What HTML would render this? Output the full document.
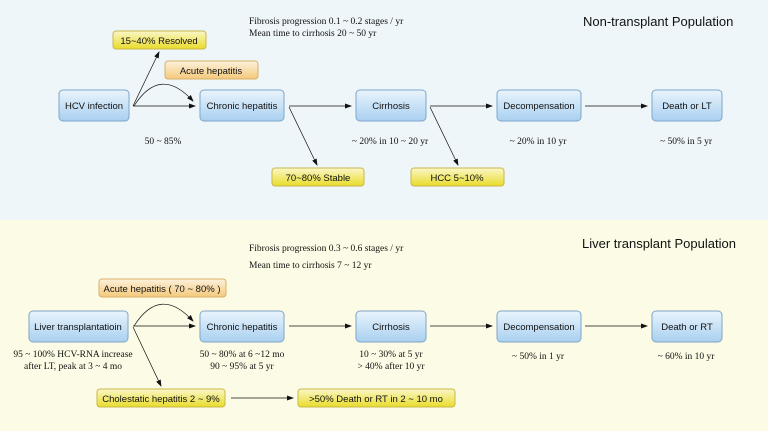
<!DOCTYPE html>
<html><head><meta charset="utf-8"><style>
html,body{margin:0;padding:0;width:768px;height:431px;overflow:hidden}
svg{display:block}
.s{font-family:"Liberation Sans",sans-serif;font-size:9.5px;fill:#111}
.t{font-family:"Liberation Serif",serif;font-size:9.5px;fill:#111}
.h{font-family:"Liberation Sans",sans-serif;font-size:13px;fill:#111}
</style></head><body>
<svg width="768" height="431" viewBox="0 0 768 431" xmlns="http://www.w3.org/2000/svg">
<defs>
<linearGradient id="b" x1="0" y1="0" x2="0" y2="1"><stop offset="0" stop-color="#e9f4fc"/><stop offset="1" stop-color="#a9d0f0"/></linearGradient>
<linearGradient id="y" x1="0" y1="0" x2="0" y2="1"><stop offset="0" stop-color="#fbf7c8"/><stop offset="1" stop-color="#e8dc2a"/></linearGradient>
<linearGradient id="o" x1="0" y1="0" x2="0" y2="1"><stop offset="0" stop-color="#fdf1dc"/><stop offset="1" stop-color="#f4c97a"/></linearGradient>
<marker id="a" markerWidth="7" markerHeight="5" refX="6" refY="2.5" orient="auto" markerUnits="userSpaceOnUse"><path d="M0,0 L7,2.5 L0,5z" fill="#111"/></marker>
</defs>
<rect x="0" y="0" width="768" height="220" fill="#eef6fa"/>
<rect x="0" y="220" width="768" height="211" fill="#fcfbe5"/>
<g stroke="#7fa6c8" stroke-width="1">
<rect x="59" y="90" width="70" height="31" rx="4" fill="url(#b)"/>
<rect x="200" y="90" width="84" height="31" rx="4" fill="url(#b)"/>
<rect x="356" y="90" width="70" height="31" rx="4" fill="url(#b)"/>
<rect x="497" y="90" width="84" height="31" rx="4" fill="url(#b)"/>
<rect x="652" y="90" width="70" height="31" rx="4" fill="url(#b)"/>
<rect x="29" y="311" width="99" height="31" rx="4" fill="url(#b)"/>
<rect x="200" y="311" width="84" height="31" rx="4" fill="url(#b)"/>
<rect x="356" y="311" width="70" height="31" rx="4" fill="url(#b)"/>
<rect x="497" y="311" width="84" height="31" rx="4" fill="url(#b)"/>
<rect x="652" y="311" width="70" height="31" rx="4" fill="url(#b)"/>
</g>
<g stroke="#c9b84a" stroke-width="1">
<rect x="113" y="31" width="93" height="18" rx="3" fill="url(#y)"/>
<rect x="272" y="168" width="92" height="18" rx="3" fill="url(#y)"/>
<rect x="411" y="168" width="93" height="18" rx="3" fill="url(#y)"/>
<rect x="97" y="389" width="128" height="18" rx="3" fill="url(#y)"/>
<rect x="298" y="389" width="157" height="18" rx="3" fill="url(#y)"/>
</g>
<g stroke="#d9b06a" stroke-width="1">
<rect x="165" y="61" width="93" height="18" rx="3" fill="url(#o)"/>
<rect x="99" y="279" width="127" height="18" rx="3" fill="url(#o)"/>
</g>
<g class="s" text-anchor="middle">
<text x="94" y="109">HCV infection</text>
<text x="242" y="109">Chronic hepatitis</text>
<text x="391" y="109">Cirrhosis</text>
<text x="539" y="109">Decompensation</text>
<text x="687" y="109">Death or LT</text>
<text x="78" y="330">Liver transplantatioin</text>
<text x="242" y="330">Chronic hepatitis</text>
<text x="391" y="330">Cirrhosis</text>
<text x="539" y="330">Decompensation</text>
<text x="687" y="330">Death or RT</text>
<text x="159" y="44">15~40% Resolved</text>
<text x="211" y="74">Acute hepatitis</text>
<text x="318" y="181">70~80% Stable</text>
<text x="457" y="181">HCC 5~10%</text>
<text x="162" y="292">Acute hepatitis ( 70 ~ 80% )</text>
<text x="161" y="402">Cholestatic hepatitis 2 ~ 9%</text>
<text x="376" y="402">&gt;50% Death or RT in 2 ~ 10 mo</text>
</g>
<text class="h" x="583" y="26">Non-transplant Population</text>
<text class="h" x="582" y="248">Liver transplant Population</text>
<g class="t">
<text x="249" y="24">Fibrosis  progression 0.1 ~ 0.2 stages / yr</text>
<text x="249" y="36">Mean time to cirrhosis 20 ~ 50 yr</text>
<text x="249" y="251">Fibrosis  progression 0.3 ~ 0.6 stages / yr</text>
<text x="249" y="268">Mean time to cirrhosis 7 ~ 12 yr</text>
</g>
<g class="t" text-anchor="middle">
<text x="163" y="144">50 ~ 85%</text>
<text x="390" y="144">~ 20% in 10 ~ 20 yr</text>
<text x="538" y="144">~ 20% in 10 yr</text>
<text x="686" y="144">~ 50% in 5 yr</text>
<text x="73" y="357">95 ~ 100% HCV-RNA increase</text>
<text x="73" y="369">after LT, peak at 3 ~ 4 mo</text>
<text x="242" y="357">50 ~ 80% at 6 ~12 mo</text>
<text x="242" y="369">90 ~ 95% at 5 yr</text>
<text x="391" y="357">10 ~ 30% at 5 yr</text>
<text x="391" y="369">&gt; 40% after 10 yr</text>
<text x="538" y="359">~ 50% in 1 yr</text>
<text x="686" y="359">~ 60% in 10 yr</text>
</g>
<g stroke="#111" stroke-width="0.7" fill="none" marker-end="url(#a)">
<line x1="133" y1="106" x2="195" y2="106"/>
<line x1="133" y1="106" x2="159" y2="52"/>
<path d="M134,106 Q160,65 193,101"/>
<line x1="289" y1="106" x2="351" y2="106"/>
<line x1="289" y1="107" x2="317" y2="165"/>
<line x1="430" y1="106" x2="492" y2="106"/>
<line x1="430" y1="107" x2="458" y2="165"/>
<line x1="585" y1="106" x2="647" y2="106"/>
<line x1="133" y1="326" x2="195" y2="326"/>
<path d="M134,326 Q160,285 193,321"/>
<line x1="133" y1="327" x2="161" y2="386"/>
<line x1="289" y1="326" x2="351" y2="326"/>
<line x1="430" y1="326" x2="492" y2="326"/>
<line x1="585" y1="326" x2="647" y2="326"/>
<line x1="231" y1="398" x2="293" y2="398"/>
</g>
</svg>
</body></html>
